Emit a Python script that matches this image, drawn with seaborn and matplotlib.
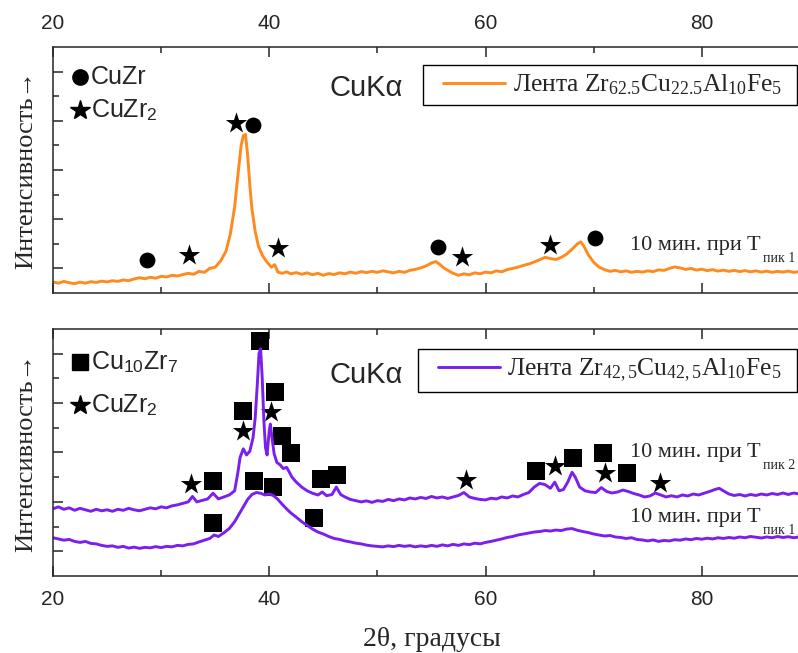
import numpy as np
import pandas as pd
import seaborn as sns
import matplotlib.pyplot as plt
from matplotlib.legend_handler import HandlerLine2D

# XRD patterns (2theta in degrees, intensity in arbitrary units)
theta_zr625 = [20.0, 20.5, 21.0, 21.5, 22.0, 22.5, 23.0, 23.5, 24.0, 24.5,
               25.0, 25.5, 26.0, 26.5, 27.0, 27.5, 28.0, 28.5, 29.0, 29.5,
               30.0, 30.5, 31.0, 31.5, 32.0, 32.5, 33.0, 33.5, 34.0, 34.5,
               35.0, 35.5, 36.0, 36.4, 36.8, 37.1, 37.4, 37.6, 37.8, 38.0,
               38.2, 38.4, 38.7, 39.0, 39.4, 39.8, 40.2, 40.5, 40.8, 41.2,
               41.6, 42.0, 42.5, 43.0, 43.5, 44.0, 44.5, 45.0, 45.5, 46.0,
               46.5, 47.0, 47.5, 48.0, 48.5, 49.0, 49.5, 50.0, 50.5, 51.0,
               51.5, 52.0, 52.5, 53.0, 53.5, 54.0, 54.5, 55.0, 55.4, 55.8,
               56.2, 56.6, 57.0, 57.5, 58.0, 58.5, 59.0, 59.5, 60.0, 60.5,
               61.0, 61.5, 62.0, 62.5, 63.0, 63.5, 64.0, 64.5, 65.0, 65.5,
               66.0, 66.5, 67.0, 67.5, 68.0, 68.5, 68.8, 69.1, 69.5, 70.0,
               70.5, 71.0, 71.5, 72.0, 72.5, 73.0, 73.5, 74.0, 74.5, 75.0,
               75.5, 76.0, 76.5, 77.0, 77.5, 78.0, 78.5, 79.0, 79.5, 80.0,
               80.5, 81.0, 81.5, 82.0, 82.5, 83.0, 83.5, 84.0, 84.5, 85.0,
               85.5, 86.0, 86.5, 87.0, 87.5, 88.0, 88.5, 89.0, 89.5, 90.0]
int_zr625 = [0.45, 0.40, 0.47, 0.42, 0.38, 0.44, 0.40, 0.46, 0.43, 0.48,
             0.45, 0.50, 0.47, 0.53, 0.50, 0.57, 0.62, 0.58, 0.64, 0.60,
             0.68, 0.65, 0.72, 0.69, 0.75, 0.80, 0.76, 0.88, 0.84, 1.00,
             1.05, 1.30, 1.70, 2.40, 3.50, 4.80, 6.00, 6.40, 6.45, 5.60,
             4.40, 3.40, 2.50, 1.90, 1.50, 1.25, 1.05, 1.15, 0.85, 0.80,
             0.86, 0.78, 0.83, 0.76, 0.82, 0.74, 0.80, 0.72, 0.79, 0.75,
             0.82, 0.78, 0.85, 0.80, 0.87, 0.83, 0.88, 0.84, 0.90, 0.86,
             0.82, 0.88, 0.84, 0.92, 0.96, 1.02, 1.10, 1.22, 1.28, 1.15,
             1.00, 0.90, 0.80, 0.72, 0.78, 0.74, 0.82, 0.78, 0.85, 0.82,
             0.90, 0.86, 0.95, 1.00, 1.05, 1.12, 1.18, 1.26, 1.35, 1.45,
             1.40, 1.36, 1.45, 1.58, 1.78, 2.00, 2.08, 1.90, 1.55, 1.25,
             1.05, 0.95, 0.88, 0.92, 0.86, 0.90, 0.84, 0.88, 0.85, 0.90,
             0.87, 0.94, 0.92, 1.00, 1.06, 1.02, 0.96, 1.00, 0.93, 0.97,
             0.91, 0.95, 0.89, 0.93, 0.88, 0.92, 0.87, 0.91, 0.86, 0.90,
             0.85, 0.89, 0.84, 0.88, 0.85, 0.89, 0.84, 0.87, 0.85, 0.86]

theta_pk2 = [20.0, 20.5, 21.0, 21.5, 22.0, 22.5, 23.0, 23.5, 24.0, 24.5,
             25.0, 25.5, 26.0, 26.5, 27.0, 27.5, 28.0, 28.5, 29.0, 29.5,
             30.0, 30.5, 31.0, 31.5, 32.0, 32.5, 32.9, 33.3, 33.8, 34.3,
             34.8, 35.3, 35.8, 36.3, 36.8, 37.1, 37.3, 37.6, 37.9, 38.2,
             38.5, 38.7, 38.9, 39.05, 39.2, 39.35, 39.5, 39.65, 39.8, 40.0,
             40.1, 40.25, 40.45, 40.7, 41.0, 41.3, 41.6, 41.8, 42.1, 42.5,
             43.0, 43.5, 44.0, 44.5, 44.9, 45.3, 45.8, 46.2, 46.6, 47.0,
             47.5, 48.0, 48.5, 49.0, 49.5, 50.0, 50.5, 51.0, 51.5, 52.0,
             52.5, 53.0, 53.5, 54.0, 54.5, 55.0, 55.5, 56.0, 56.5, 57.0,
             57.5, 58.0, 58.5, 59.0, 59.5, 60.0, 60.5, 61.0, 61.5, 62.0,
             62.5, 63.0, 63.5, 64.0, 64.5, 65.0, 65.5, 66.0, 66.4, 66.8,
             67.2, 67.6, 68.0, 68.3, 68.7, 69.2, 69.7, 70.2, 70.7, 71.2,
             71.7, 72.2, 72.7, 73.2, 73.7, 74.2, 74.7, 75.2, 75.7, 76.2,
             76.7, 77.2, 77.7, 78.2, 78.7, 79.2, 79.7, 80.2, 80.7, 81.2,
             81.6, 82.0, 82.5, 83.0, 83.5, 84.0, 84.5, 85.0, 85.5, 86.0,
             86.5, 87.0, 87.5, 88.0, 88.5, 89.0, 89.5, 90.0]
int_pk2 = [2.72, 2.80, 2.70, 2.76, 2.66, 2.74, 2.68, 2.62, 2.70, 2.64,
           2.68, 2.62, 2.70, 2.66, 2.74, 2.68, 2.64, 2.70, 2.76, 2.72,
           2.80, 2.76, 2.84, 2.88, 2.94, 3.00, 3.22, 3.00, 3.06, 3.12,
           3.35, 3.12, 3.20, 3.28, 3.45, 4.20, 4.80, 5.15, 4.90, 5.05,
           5.60, 6.40, 7.80, 9.00, 9.20, 8.00, 6.30, 5.20, 4.90, 5.90,
           6.15, 5.60, 4.95, 4.60, 4.50, 4.35, 4.40, 4.25, 4.00, 3.80,
           3.60, 3.45, 3.35, 3.28, 3.40, 3.25, 3.30, 3.60, 3.30, 3.20,
           3.10, 3.05, 3.00, 3.04, 2.98, 3.05, 3.02, 3.10, 3.05, 3.12,
           3.08, 3.16, 3.12, 3.18, 3.14, 3.22, 3.16, 3.20, 3.14, 3.20,
           3.26, 3.38, 3.20, 3.14, 3.10, 3.08, 3.15, 3.12, 3.20, 3.16,
           3.24, 3.20, 3.30, 3.38, 3.60, 3.75, 3.70, 3.55, 3.80, 3.45,
           3.50, 3.80, 4.20, 4.00, 3.60, 3.45, 3.40, 3.38, 3.58, 3.42,
           3.36, 3.40, 3.48, 3.42, 3.34, 3.28, 3.20, 3.24, 3.36, 3.28,
           3.20, 3.25, 3.20, 3.28, 3.24, 3.32, 3.28, 3.35, 3.42, 3.50,
           3.55, 3.45, 3.32, 3.26, 3.30, 3.24, 3.30, 3.26, 3.32, 3.28,
           3.34, 3.30, 3.36, 3.30, 3.36, 3.32, 3.28, 3.34]

theta_pk1 = [20.0, 20.5, 21.0, 21.5, 22.0, 22.5, 23.0, 23.5, 24.0, 24.5,
             25.0, 25.5, 26.0, 26.5, 27.0, 27.5, 28.0, 28.5, 29.0, 29.5,
             30.0, 30.5, 31.0, 31.5, 32.0, 32.5, 33.0, 33.5, 34.0, 34.5,
             34.9, 35.3, 35.8, 36.3, 36.8, 37.2, 37.6, 38.0, 38.4, 38.8,
             39.2, 39.6, 40.0, 40.4, 40.8, 41.2, 41.6, 42.0, 42.5, 43.0,
             43.5, 44.0, 44.5, 45.0, 45.5, 46.0, 46.5, 47.0, 47.5, 48.0,
             48.5, 49.0, 49.5, 50.0, 50.5, 51.0, 51.5, 52.0, 52.5, 53.0,
             53.5, 54.0, 54.5, 55.0, 55.5, 56.0, 56.5, 57.0, 57.5, 58.0,
             58.5, 59.0, 59.5, 60.0, 60.5, 61.0, 61.5, 62.0, 62.5, 63.0,
             63.5, 64.0, 64.5, 65.0, 65.5, 66.0, 66.5, 67.0, 67.5, 68.0,
             68.5, 69.0, 69.5, 70.0, 70.5, 71.0, 71.5, 72.0, 72.5, 73.0,
             73.5, 74.0, 74.5, 75.0, 75.5, 76.0, 76.5, 77.0, 77.5, 78.0,
             78.5, 79.0, 79.5, 80.0, 80.5, 81.0, 81.5, 82.0, 82.5, 83.0,
             83.5, 84.0, 84.5, 85.0, 85.5, 86.0, 86.5, 87.0, 87.5, 88.0,
             88.5, 89.0, 89.5, 90.0]
int_pk1 = [1.55, 1.50, 1.45, 1.48, 1.40, 1.36, 1.40, 1.32, 1.30, 1.24,
           1.20, 1.22, 1.16, 1.20, 1.13, 1.17, 1.12, 1.16, 1.14, 1.19,
           1.15, 1.20, 1.18, 1.24, 1.22, 1.28, 1.30, 1.38, 1.45, 1.52,
           1.66, 1.60, 1.75, 1.92, 2.20, 2.50, 2.80, 3.10, 3.30, 3.38,
           3.35, 3.28, 3.32, 3.25, 3.10, 2.90, 2.72, 2.55, 2.38, 2.20,
           2.05, 1.90, 1.78, 1.70, 1.60, 1.52, 1.48, 1.42, 1.38, 1.33,
           1.30, 1.25, 1.22, 1.20, 1.18, 1.22, 1.19, 1.24, 1.20, 1.23,
           1.18, 1.22, 1.19, 1.24, 1.20, 1.26, 1.22, 1.28, 1.24, 1.30,
           1.27, 1.33, 1.30, 1.36, 1.40, 1.45, 1.50, 1.56, 1.60, 1.66,
           1.70, 1.74, 1.78, 1.80, 1.84, 1.82, 1.86, 1.84, 1.90, 1.92,
           1.85, 1.80, 1.76, 1.70, 1.66, 1.62, 1.64, 1.58, 1.56, 1.52,
           1.55, 1.48, 1.46, 1.42, 1.46, 1.40, 1.44, 1.42, 1.47, 1.45,
           1.50, 1.47, 1.52, 1.49, 1.53, 1.50, 1.55, 1.52, 1.56, 1.53,
           1.58, 1.55, 1.60, 1.57, 1.54, 1.58, 1.55, 1.60, 1.56, 1.59,
           1.55, 1.58, 1.54, 1.57]

# phase markers
cuzr_x = [28.7, 38.5, 55.6, 70.1]
cuzr_y = [1.34, 6.83, 1.87, 2.24]
cuzr2_top_x = [32.6, 36.9, 40.8, 57.8, 66.0]
cuzr2_top_y = [1.54, 6.90, 1.83, 1.46, 1.95]
cu10zr7_x = [39.1, 40.5, 37.6, 41.2, 42.0, 34.8, 38.6, 40.3, 44.8, 46.3,
             34.8, 44.1, 64.7, 68.1, 70.9, 73.1]
cu10zr7_y = [9.50, 7.44, 6.67, 5.65, 4.96, 3.86, 3.86, 3.62, 3.94, 4.07,
             2.15, 2.36, 4.27, 4.76, 4.96, 4.19]
cuzr2_bot_x = [32.8, 37.6, 40.2, 58.2, 66.4, 71.0, 76.1]
cuzr2_bot_y = [3.74, 5.85, 6.63, 3.90, 4.47, 4.15, 3.78]

x_major = [20, 40, 60, 80]
x_minor = [30, 50, 70, 90]
y_major = [1, 3, 5, 7, 9]
y_minor = [2, 4, 6, 8]

orange = '#FF8A1E'
purple = '#7A1FEE'

sns.set_style('ticks')
plt.rcParams['font.family'] = ['Liberation Sans', 'DejaVu Sans']
plt.rcParams['mathtext.fontset'] = 'custom'
plt.rcParams['mathtext.rm'] = 'Liberation Serif'
plt.rcParams['mathtext.it'] = 'Liberation Serif:italic'
plt.rcParams['mathtext.sf'] = 'Liberation Sans'
serif = ['Liberation Serif', 'DejaVu Serif']

fig = plt.figure(figsize=(7.98, 6.53), dpi=100)
ax1 = fig.add_axes([0.0664, 0.5513, 0.9486, 0.3767])
ax2 = fig.add_axes([0.0664, 0.1179, 0.9486, 0.3783])

top = pd.DataFrame({'theta': theta_zr625, 'I': int_zr625})
sns.lineplot(data=top, x='theta', y='I', ax=ax1, color=orange, lw=2.1,
             estimator=None, label=r'Лента Zr$_{62.5}$Cu$_{22.5}$Al$_{10}$Fe$_{5}$  ')
sns.scatterplot(x=cuzr_x, y=cuzr_y, ax=ax1, marker='o', s=130, color='black',
                linewidth=0, legend=False)
sns.scatterplot(x=cuzr2_top_x, y=cuzr2_top_y, ax=ax1, marker='*', s=260,
                color='black', linewidth=0, legend=False)

bot1 = pd.DataFrame({'theta': theta_pk1, 'I': int_pk1})
bot2 = pd.DataFrame({'theta': theta_pk2, 'I': int_pk2})
sns.lineplot(data=bot2, x='theta', y='I', ax=ax2, color=purple, lw=2.1,
             estimator=None, label=r'Лента Zr$_{42,5}$Cu$_{42,5}$Al$_{10}$Fe$_{5}$  ')
sns.lineplot(data=bot1, x='theta', y='I', ax=ax2, color=purple, lw=2.1,
             estimator=None)
sns.scatterplot(x=cu10zr7_x, y=cu10zr7_y, ax=ax2, marker='s', s=150,
                color='black', linewidth=0, legend=False)
sns.scatterplot(x=cuzr2_bot_x, y=cuzr2_bot_y, ax=ax2, marker='*', s=260,
                color='black', linewidth=0, legend=False)

for ax, ka_y, leg_top in ((ax1, 0.833, 0.927), (ax2, 0.814, 0.919)):
    ax.set_xlim(20, 90)
    ax.set_ylim(0, 10)
    ax.set_xticks(x_major)
    ax.set_xticks(x_minor, minor=True)
    ax.set_yticks(y_major)
    ax.set_yticks(y_minor, minor=True)
    ax.set_yticklabels([])
    ax.tick_params(which='both', direction='in', top=True, bottom=True,
                   left=True, right=False, width=1.1, labelsize=15)
    ax.tick_params(axis='x', which='both', pad=10)
    ax.tick_params(which='major', length=7)
    ax.tick_params(which='minor', length=4)
    for s in ax.spines.values():
        s.set_linewidth(1.1)
    ax.spines['right'].set_visible(False)
    ax.set_ylabel('Интенсивность→', family=serif, fontsize=19, labelpad=8)
    ax.set_xlabel('')
    ax.text(0.365, ka_y, 'CuKα', transform=ax.transAxes, fontsize=21,
            va='center', ha='left')
    ax.legend(loc='upper right', bbox_to_anchor=(0.983, leg_top),
              prop={'family': serif, 'size': 18.4}, frameon=True,
              fancybox=False, edgecolor='black', framealpha=1,
              handlelength=2.9, borderpad=0.3, handletextpad=0.31,
              borderaxespad=0,
              handler_map={plt.Line2D: HandlerLine2D(xpad=0.48)})
    ax.get_legend().get_frame().set_linewidth(1.0)

ax1.tick_params(labeltop=True, labelbottom=False)
ax2.tick_params(labeltop=False, labelbottom=True)
ax2.set_xlabel('2θ, градусы', family=serif, fontsize=20, labelpad=13)

# key labels in the upper left corner
ax1.plot([0.036], [0.878], 'o', ms=11, color='black', transform=ax1.transAxes)
ax1.text(0.05, 0.878, 'CuZr', transform=ax1.transAxes, fontsize=18, va='center')
ax1.plot([0.036], [0.744], '*', ms=15, color='black', transform=ax1.transAxes)
ax1.text(0.05, 0.744, r'CuZr$_\mathsf{2}$', transform=ax1.transAxes,
         fontsize=18, va='center')
ax2.plot([0.036], [0.866], 's', ms=11, color='black', transform=ax2.transAxes)
ax2.text(0.05, 0.866, r'Cu$_\mathsf{10}$Zr$_\mathsf{7}$', transform=ax2.transAxes,
         fontsize=18, va='center')
ax2.plot([0.036], [0.692], '*', ms=15, color='black', transform=ax2.transAxes)
ax2.text(0.05, 0.692, r'CuZr$_\mathsf{2}$', transform=ax2.transAxes,
         fontsize=18, va='center')


def anneal_note(ax, y, sub):
    t = ax.text(0.762, y, '10 мин. при T', transform=ax.transAxes,
                family=serif, fontsize=16, va='baseline')
    ax.annotate(sub, xy=(1, 0), xycoords=t, xytext=(2, -5),
                textcoords='offset points', family=serif, fontsize=10,
                va='baseline')


anneal_note(ax1, 0.175, 'пик 1')
anneal_note(ax2, 0.48, 'пик 2')
anneal_note(ax2, 0.22, 'пик 1')

fig.savefig('out.png', dpi=100)
